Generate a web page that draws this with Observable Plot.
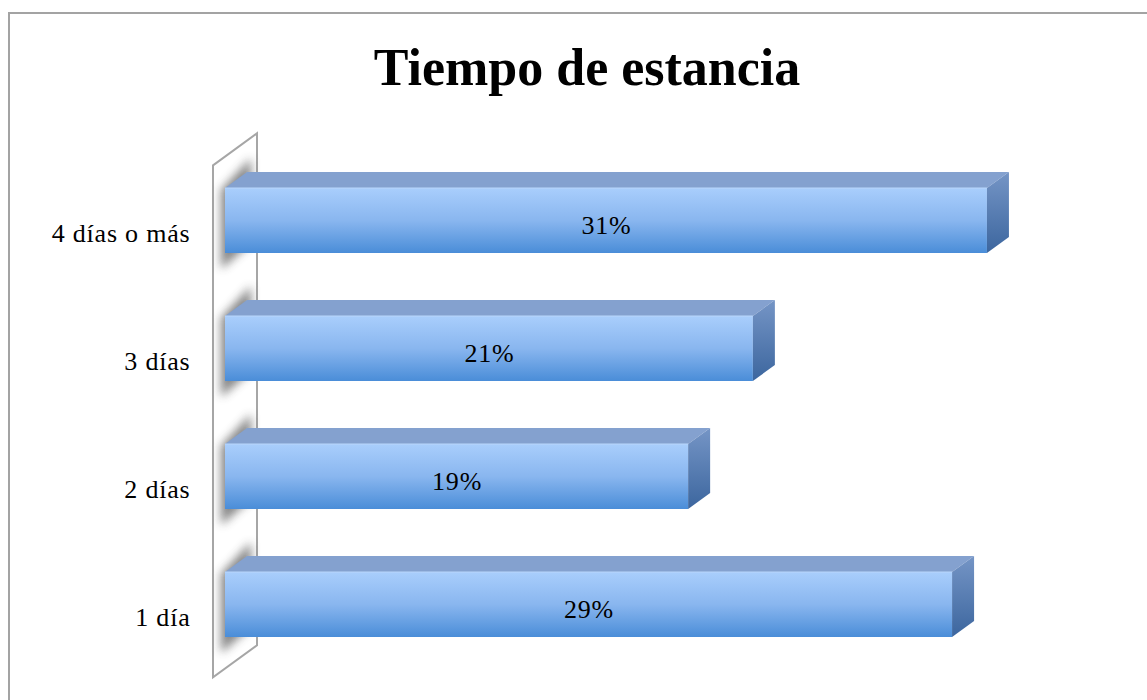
<!DOCTYPE html>
<html><head><meta charset="utf-8">
<script src="https://cdn.jsdelivr.net/npm/d3@7"></script>
<script src="https://cdn.jsdelivr.net/npm/@observablehq/plot@0.6"></script>
<style>
html,body{margin:0;padding:0;background:#fff;overflow:hidden;width:1147px;height:700px}
#frame{position:absolute;left:8px;top:12px;width:1200px;height:800px;border:2px solid #a3a3a3;box-sizing:border-box}
#wrap{position:absolute;left:0;top:0;width:1147px}
#title{box-sizing:border-box;height:125px;margin:0;padding:42px 0 0 27px;font:bold 52px/52px "Liberation Serif",serif;text-align:center;color:#000}
svg{display:block}
</style></head>
<body>
<div id="frame"></div>
<div id="wrap"><div id="title">Tiempo de estancia</div><div id="chart"></div></div>
<script>
// Data
const categories = ["1 día", "2 días", "3 días", "4 días o más"];
const values = [29.2, 18.6, 21.2, 30.6];
const valueLabels = ["29%", "19%", "21%", "31%"];

const data = categories.map((c, i) => ({cat: c, value: values[i], label: valueLabels[i]}));
const order = categories.slice().reverse();

const DX = 22, DY = -16; // 3D depth offset

function bandW(y) { return typeof y.bandwidth === "function" ? y.bandwidth() : y.bandwidth; }

function defsMark() {
  const g = d3.create("svg:g");
  const defs = g.append("defs");
  const f = defs.append("linearGradient").attr("id", "frontGrad").attr("x1", 0).attr("y1", 0).attr("x2", 0).attr("y2", 1);
  f.append("stop").attr("offset", "0").attr("stop-color", "#a9cefc");
  f.append("stop").attr("offset", "0.5").attr("stop-color", "#89b6ef");
  f.append("stop").attr("offset", "1").attr("stop-color", "#4a8dd8");
  const s = defs.append("linearGradient").attr("id", "sideGrad").attr("x1", 0).attr("y1", 0).attr("x2", 0).attr("y2", 1);
  s.append("stop").attr("offset", "0").attr("stop-color", "#7595c6");
  s.append("stop").attr("offset", "1").attr("stop-color", "#3c669e");
  defs.append("filter").attr("id", "shadowBlur").attr("x", "-50%").attr("y", "-50%").attr("width", "200%").attr("height", "200%")
    .append("feGaussianBlur").attr("stdDeviation", 5);
  return g.node();
}

function wallMark(index, scales) {
  const {x, y} = scales;
  const [r0, r1] = y.range();
  const x0 = x(0);
  const f = -12 / 22, b = 32 / 22; // front / back depth factors
  const g = d3.create("svg:g");
  g.append("path")
    .attr("d", `M${x0 + f * DX},${r0 + f * DY}L${x0 + b * DX},${r0 + b * DY}L${x0 + b * DX},${r1 + b * DY}L${x0 + f * DX},${r1 + f * DY}Z`)
    .attr("fill", "#fff").attr("stroke", "#a6a6a6").attr("stroke-width", 2);
  const bw = bandW(y);
  for (const d of data) {
    const yt = y(d.cat), yb = yt + bw;
    g.append("path")
      .attr("d", `M${x0 - 4},${yt + 2}L${x0 + 26},${yt - 30}L${x0 + 26},${yb - 10}L${x0 - 4},${yb + 16}Z`)
      .attr("fill", "#444").attr("opacity", 0.65).attr("filter", "url(#shadowBlur)");
  }
  return g.node();
}

function facesMark(index, scales) {
  const {x, y} = scales;
  const bw = bandW(y);
  const g = d3.create("svg:g");
  for (const d of data) {
    const x0 = x(0), x1 = x(d.value), yt = y(d.cat), yb = yt + bw;
    g.append("path")
      .attr("d", `M${x0},${yt}L${x1},${yt}L${x1 + DX},${yt + DY}L${x0 + DX},${yt + DY}Z`)
      .attr("fill", "#84a1cf");
    g.append("path")
      .attr("d", `M${x1},${yt}L${x1 + DX},${yt + DY}L${x1 + DX},${yb + DY}L${x1},${yb}Z`)
      .attr("fill", "url(#sideGrad)");
    g.append("line").attr("x1", x0).attr("x2", x1).attr("y1", yt).attr("y2", yt)
      .attr("stroke", "#b9d6fb").attr("stroke-width", 1);
  }
  return g.node();
}

const chart = Plot.plot({
  width: 1147,
  height: 575,
  marginLeft: 225,
  marginRight: 0,
  marginTop: 0,
  marginBottom: 0,
  style: {fontFamily: "'Liberation Serif', serif", background: "transparent", overflow: "visible", letterSpacing: "0.8px"},
  x: {domain: [0, 35], range: [225, 225 + 35 * 24.9], axis: null},
  y: {domain: order, range: [31.6, 543.6], paddingInner: 0.49, paddingOuter: 0.245, align: 0.5, axis: null},
  marks: [
    defsMark,
    wallMark,
    Plot.barX(data, {x: "value", y: "cat", fill: "url(#frontGrad)"}),
    facesMark,
    Plot.axisY({tickSize: 0, tickPadding: 35, fontSize: 26, dy: 13, fill: "#000", label: null}),
    Plot.text(data, {x: d => d.value / 2, y: "cat", text: "label", fontSize: 26, dy: 5, fill: "#000"})
  ]
});
document.getElementById("chart").appendChild(chart);
</script>
</body></html>
